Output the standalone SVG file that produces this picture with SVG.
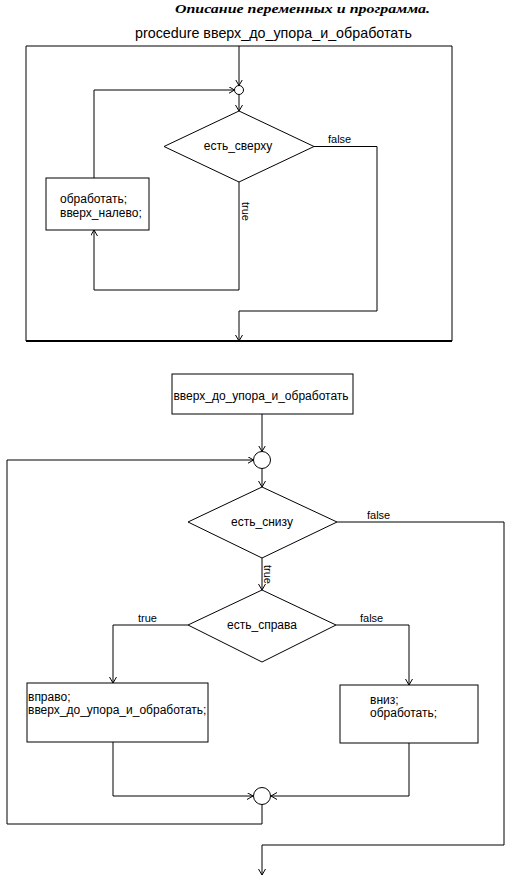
<svg xmlns="http://www.w3.org/2000/svg" width="512" height="886" viewBox="0 0 512 886">
<defs>
<style>
.ln{fill:none;stroke:#000;stroke-width:1}
.nd{fill:#fff;stroke:#000;stroke-width:1}
.t{font-family:"Liberation Sans",Arial,sans-serif;font-size:11px;fill:#000}
.c{font-family:"Liberation Sans",Arial,sans-serif;font-size:12px;fill:#000}
.title{font-family:"Liberation Serif","Times New Roman",serif;font-size:13px;font-weight:bold;font-style:italic;fill:#000}
.proc{font-family:"Liberation Sans",Arial,sans-serif;font-size:14.3px;fill:#000}
</style>
<marker id="ar" markerWidth="8" markerHeight="8" refX="6" refY="3.5" orient="auto" markerUnits="userSpaceOnUse">
<path d="M0,0 L6,3.5 L0,7" fill="none" stroke="#000" stroke-width="1"/>
</marker>
</defs>
<rect width="512" height="886" fill="#fff"/>
<text class="title" x="175" y="13" textLength="255" lengthAdjust="spacingAndGlyphs">Описание переменных и программа.</text>
<text class="proc" x="135" y="38">procedure вверх_до_упора_и_обработать</text>
<g id="frame">
<path class="ln" d="M26,341 L26,46 L452,46 L452,341"/>
<path d="M26,341 L452,341" stroke="#000" stroke-width="2"/>
</g>
<g id="connectors">
<path class="ln" d="M239,46 L239,85.5" marker-end="url(#ar)"/>
<path class="ln" d="M239,94.5 L239,111" marker-end="url(#ar)"/>
<path class="ln" d="M314,146.5 L377,146.5 L377,311 L239,311 L239,341" marker-end="url(#ar)"/>
<path class="ln" d="M239,182 L239,290 L94,290 L94,230" marker-end="url(#ar)"/>
<path class="ln" d="M94,178 L94,90 L234.5,90" marker-end="url(#ar)"/>
<path class="ln" d="M262,414 L262,451.5" marker-end="url(#ar)"/>
<path class="ln" d="M262,468.5 L262,487" marker-end="url(#ar)"/>
<path class="ln" d="M337,522 L504,522 L504,845 L262,845 L262,875" marker-end="url(#ar)"/>
<path class="ln" d="M262,558 L262,590" marker-end="url(#ar)"/>
<path class="ln" d="M188,625 L113,625 L113,683" marker-end="url(#ar)"/>
<path class="ln" d="M336,625 L409,625 L409,685" marker-end="url(#ar)"/>
<path class="ln" d="M113,742 L113,796 L253,796" marker-end="url(#ar)"/>
<path class="ln" d="M409,743 L409,796 L271,796" marker-end="url(#ar)"/>
<path class="ln" d="M262,804.5 L262,824 L7,824 L7,460 L253.5,460" marker-end="url(#ar)"/>
<text class="t" x="328" y="143">false</text>
<text class="t" transform="translate(242,202) rotate(90)">true</text>
<text class="t" x="367" y="519">false</text>
<text class="t" transform="translate(264,565) rotate(90)">true</text>
<text class="t" x="138" y="622">true</text>
<text class="t" x="360" y="622">false</text>
</g>
<g id="join1"><circle class="nd" cx="239" cy="90" r="4.5"/></g>
<g id="cond1">
<polygon class="nd" points="164,146.5 239,111 314,146.5 239,182"/>
<text class="c" x="238" y="150" text-anchor="middle">есть_сверху</text>
</g>
<g id="box1">
<rect class="nd" x="46" y="178" width="103" height="52"/>
<text class="c" x="60" y="203">обработать;</text>
<text class="c" x="60" y="217">вверх_налево;</text>
</g>
<g id="start2">
<rect class="nd" x="172" y="374" width="181" height="40"/>
<text class="c" x="261" y="400" text-anchor="middle">вверх_до_упора_и_обработать</text>
</g>
<g id="join2"><circle class="nd" cx="262" cy="460" r="8.5"/></g>
<g id="cond2">
<polygon class="nd" points="188,522 262,487 337,522 262,558"/>
<text class="c" x="262" y="526" text-anchor="middle">есть_снизу</text>
</g>
<g id="cond3">
<polygon class="nd" points="188,625 262,590 336,625 262,662"/>
<text class="c" x="262" y="629" text-anchor="middle">есть_справа</text>
</g>
<g id="box2">
<rect class="nd" x="27" y="683" width="181" height="59"/>
<text class="c" x="28" y="701">вправо;</text>
<text class="c" x="28" y="714">вверх_до_упора_и_обработать;</text>
</g>
<g id="box3">
<rect class="nd" x="340" y="685" width="138" height="58"/>
<text class="c" x="370" y="704">вниз;</text>
<text class="c" x="370" y="717">обработать;</text>
</g>
<g id="join3"><circle class="nd" cx="262" cy="796" r="8.5"/></g>
</svg>
